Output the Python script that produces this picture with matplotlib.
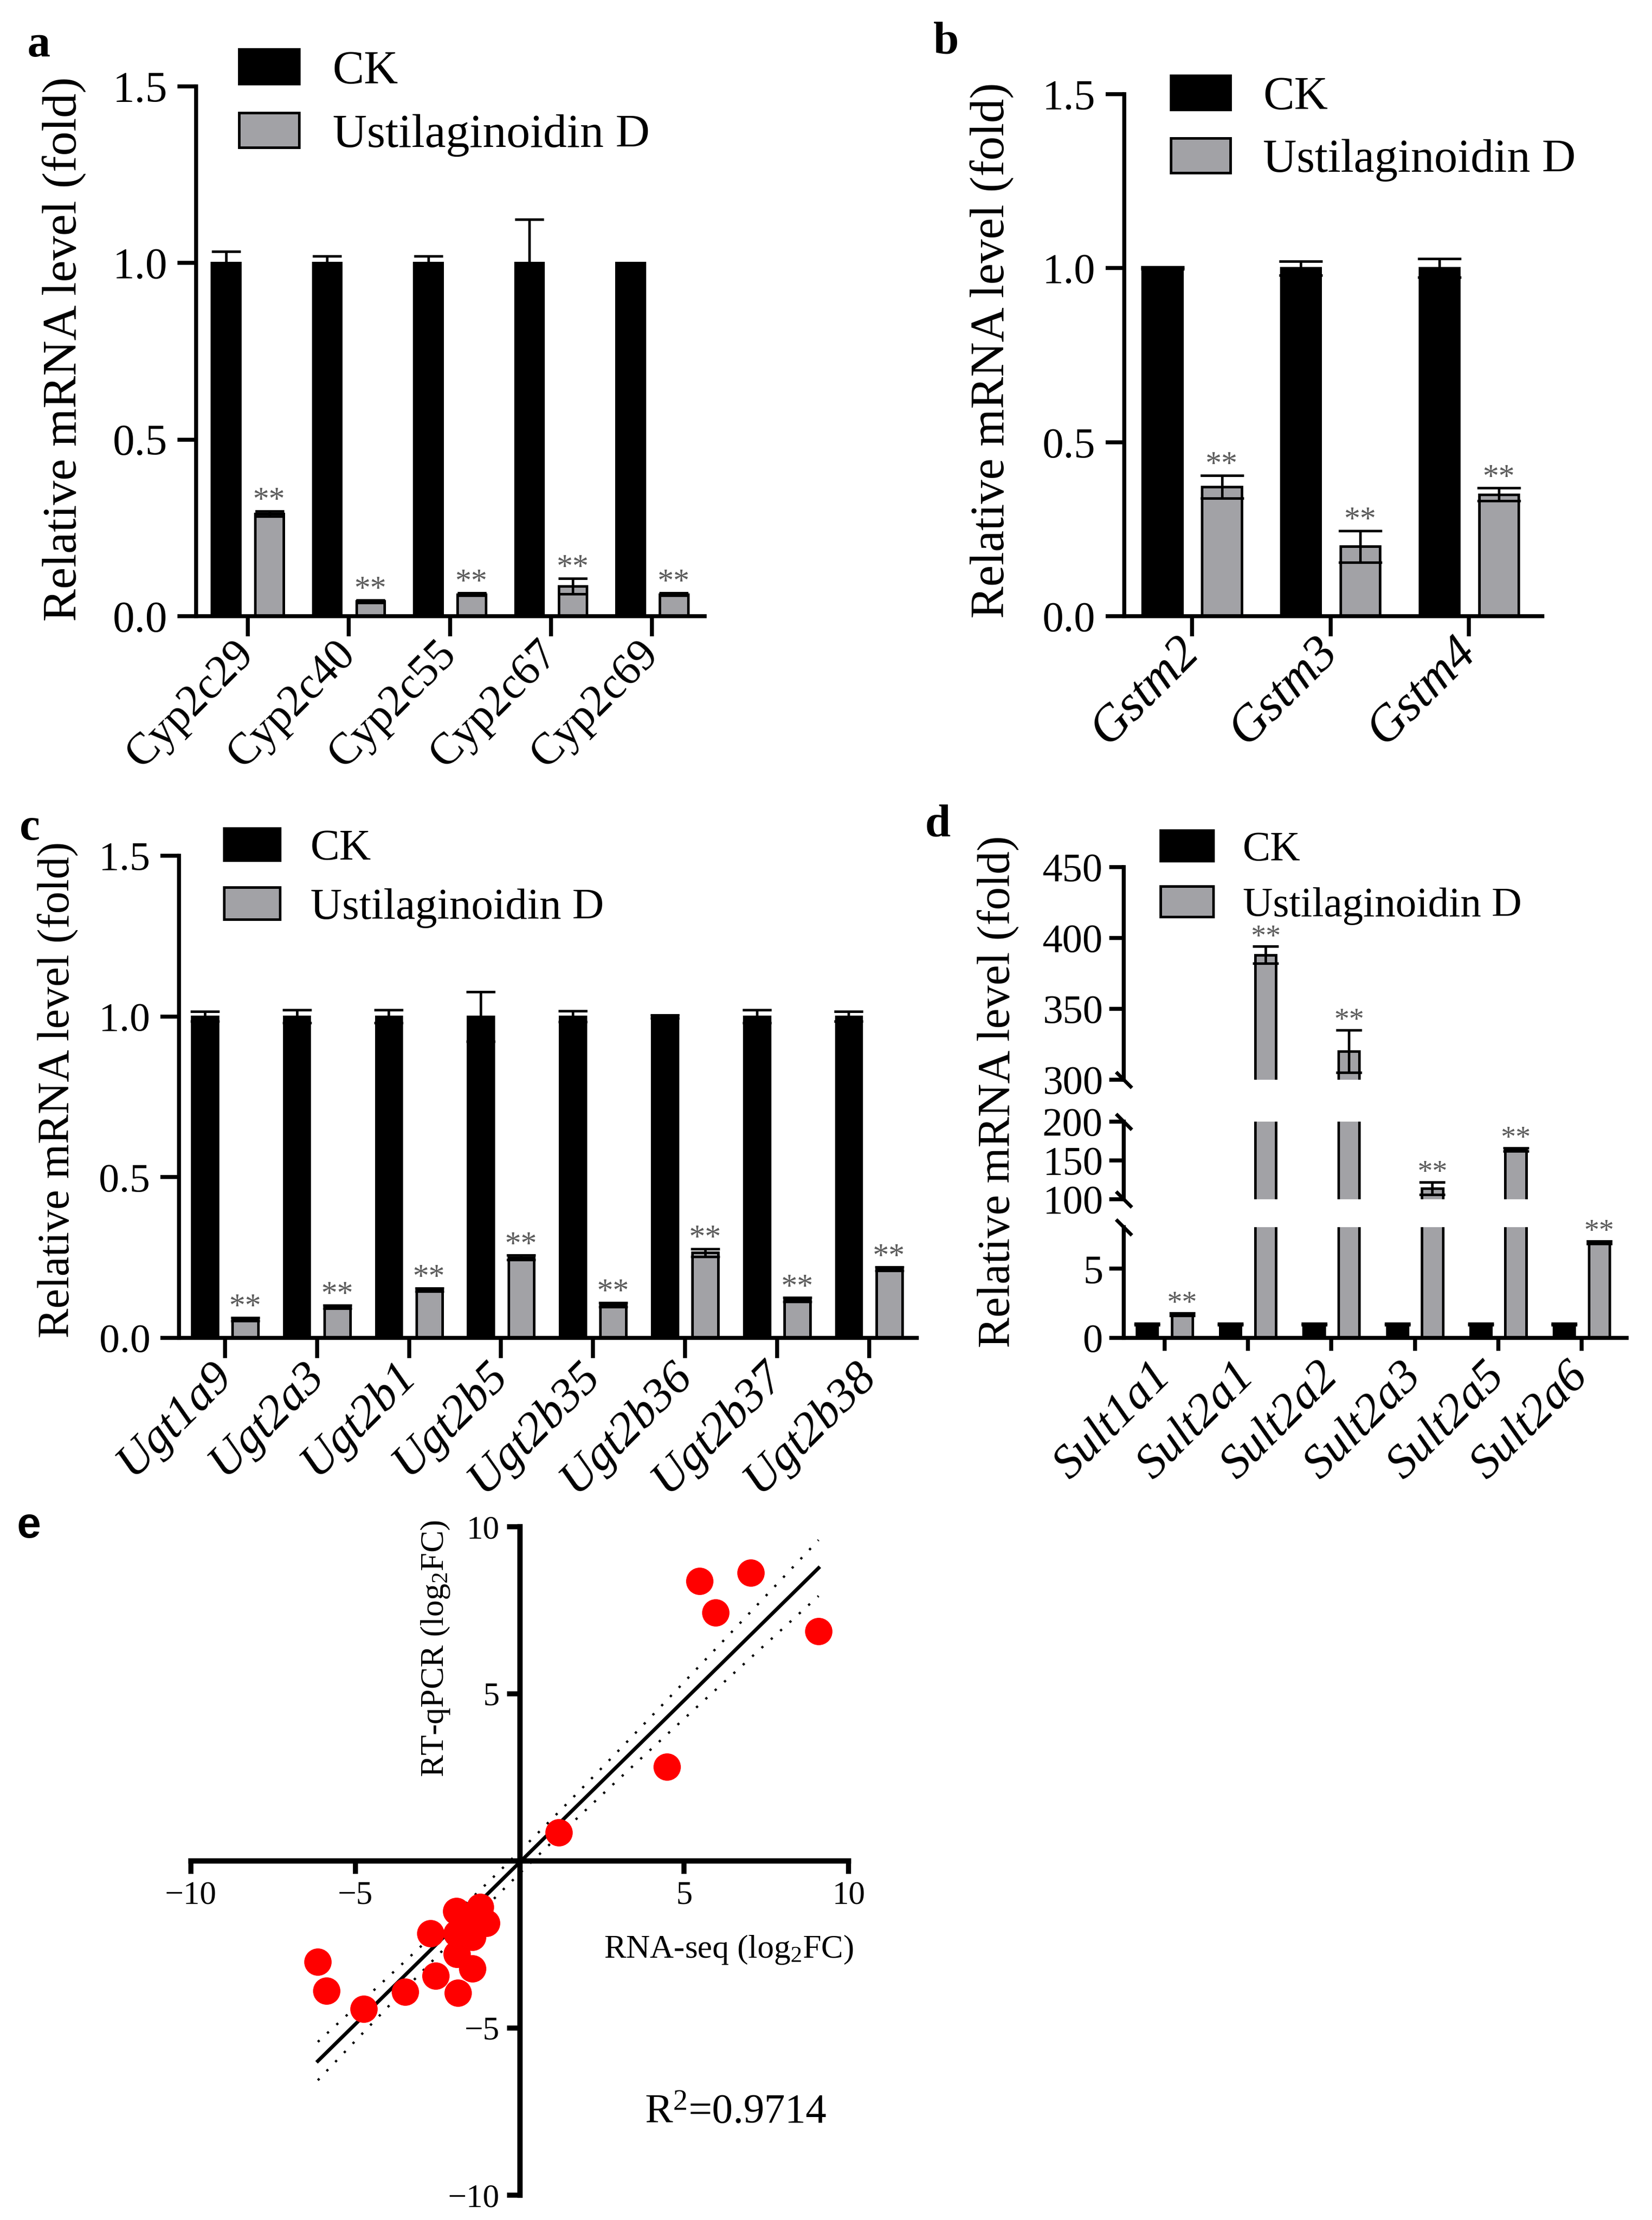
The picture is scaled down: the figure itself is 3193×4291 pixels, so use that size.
import numpy as np
import matplotlib
matplotlib.use("Agg")
import matplotlib.pyplot as plt
from matplotlib.patches import Patch

plt.rcParams['font.family'] = ['Liberation Serif', 'DejaVu Serif']
plt.rcParams['mathtext.fontset'] = 'custom'
plt.rcParams['mathtext.rm'] = 'Liberation Serif'
plt.rcParams['mathtext.it'] = 'Liberation Serif:italic'

# ---- dados ----
series_names = ["CK", "Ustilaginoidin D"]

a_genes = ["Cyp2c29", "Cyp2c40", "Cyp2c55", "Cyp2c67", "Cyp2c69"]
a_ck = [1.0, 1.0, 1.0, 1.0, 1.0]
a_ck_err = [0.033, 0.019, 0.019, 0.124, 0.0]
a_ud = [0.29, 0.042, 0.062, 0.085, 0.062]
a_ud_err = [0.007, 0.004, 0.004, 0.022, 0.004]

b_genes = ["Gstm2", "Gstm3", "Gstm4"]
b_ck = [1.0, 1.0, 1.0]
b_ck_err = [0.003, 0.02, 0.027]
b_ud = [0.372, 0.2, 0.35]
b_ud_err = [0.033, 0.045, 0.018]

c_genes = ["Ugt1a9", "Ugt2a3", "Ugt2b1", "Ugt2b5", "Ugt2b35", "Ugt2b36", "Ugt2b37", "Ugt2b38"]
c_ck = [1.0, 1.0, 1.0, 1.0, 1.0, 1.0, 1.0, 1.0]
c_ck_err = [0.015, 0.02, 0.02, 0.077, 0.017, 0.005, 0.02, 0.015]
c_ud = [0.058, 0.096, 0.15, 0.25, 0.103, 0.265, 0.119, 0.215]
c_ud_err = [0.005, 0.005, 0.005, 0.007, 0.006, 0.012, 0.006, 0.005]

d_genes = ["Sult1a1", "Sult2a1", "Sult2a2", "Sult2a3", "Sult2a5", "Sult2a6"]
d_ck = [1.0, 1.0, 1.0, 1.0, 1.0, 1.0]
d_ck_err = [0.05, 0.05, 0.05, 0.05, 0.05, 0.05]
d_ud = [1.7, 388, 320, 114, 164, 6.9]
d_ud_err = [0.1, 6, 15, 8, 2, 0.1]
d_segments = [(300, 450), (100, 200), (0, 8)]
d_seg_ticks = [[300, 350, 400, 450], [100, 150, 200], [0, 5]]

# painel e: RNA-seq vs RT-qPCR (log2FC)
e_rnaseq = [7.02, 5.47, 5.96, 9.09, 4.47, 1.19,
            -6.14, -5.87, -4.74, -3.49, -2.71, -2.56, -1.88, -1.44,
            -1.92, -1.20, -1.01, -1.91, -1.44, -1.91, -1.69, -1.37]
e_qpcr = [8.62, 8.37, 7.43, 6.88, 2.81, 0.85,
          -3.02, -3.89, -4.43, -3.92, -2.17, -3.43, -3.95, -3.22,
          -1.50, -1.37, -1.86, -2.79, -2.27, -2.17, -1.71, -1.96]
e_r2 = 0.9714
T_CRIT = 2.086  # t(0.975, gl=20)

# ---- estilo ----
W, H = 3193, 4291
GRAY = "#a2a2a6"
STAR_C = "#5c5c5c"
BAR_LW = 3.6
SPINE_LW = 5.5


def rect(x0, y0, x1, y1):
    # coordenadas em pixels (y de cima pra baixo) -> fração da figura
    return [x0 / W, 1 - y1 / H, (x1 - x0) / W, (y1 - y0) / H]


def fig_text(fig, x, y, s, **kw):
    fig.text(x / W, 1 - y / H, s, **kw)


def style_axes(ax, fs, ylen, xlen, ypad, xpad):
    for s in ["top", "right"]:
        ax.spines[s].set_visible(False)
    for s in ["left", "bottom"]:
        ax.spines[s].set_linewidth(SPINE_LW)
    ax.tick_params(axis="y", direction="out", length=ylen, width=SPINE_LW, pad=ypad, labelsize=fs)
    ax.tick_params(axis="x", direction="out", length=xlen, width=SPINE_LW, pad=xpad)


def draw_bars(ax, x, ck, ck_err, ud, ud_err, w, off, cap):
    ax.bar(x - off, ck, w, color="black", edgecolor="black", lw=BAR_LW, zorder=2)
    ax.bar(x + off, ud, w, color=GRAY, edgecolor="black", lw=BAR_LW, zorder=2)
    ax.errorbar(x - off, ck, yerr=ck_err, fmt="none", ecolor="black",
                elinewidth=3.5, capsize=cap, capthick=3.5, zorder=3)
    ax.errorbar(x + off, ud, yerr=ud_err, fmt="none", ecolor="black",
                elinewidth=3.5, capsize=cap, capthick=3.5, zorder=3)


def stars(ax, xs, tops, fs):
    for xx, t in zip(xs, tops):
        ax.annotate("**", xy=(xx, t), xytext=(0, 2), textcoords="offset points",
                    ha="center", va="baseline", fontsize=fs, color=STAR_C,
                    annotation_clip=False)


def legend(ax, fs, x, y):
    handles = [Patch(facecolor="black", edgecolor="black", lw=BAR_LW),
               Patch(facecolor=GRAY, edgecolor="black", lw=BAR_LW)]
    ax.legend(handles, series_names, loc="upper left", bbox_to_anchor=(x / W, 1 - y / H),
              bbox_transform=ax.figure.transFigure, frameon=False, fontsize=fs,
              borderpad=0, borderaxespad=0, handlelength=1.27, handleheight=0.75,
              labelspacing=0.42, handletextpad=0.7)


def bar_panel(fig, box, genes, ck, ck_err, ud, ud_err, xlim, w, off, cap,
              fs, xfs, xpad, leg_fs, leg_xy, italic):
    ax = fig.add_axes(rect(*box))
    x = np.arange(len(genes))
    draw_bars(ax, x, np.array(ck), np.array(ck_err), np.array(ud), np.array(ud_err), w, off, cap)
    stars(ax, x + off, np.array(ud) + np.array(ud_err), 45)
    ax.set_xlim(*xlim)
    ax.set_ylim(0, 1.5)
    ax.set_yticks([0, 0.5, 1.0, 1.5])
    ax.set_yticklabels(["0.0", "0.5", "1.0", "1.5"])
    ax.set_xticks(x)
    ax.set_xticklabels(genes, rotation=45, ha="right", va="center", rotation_mode="anchor",
                       fontstyle="italic" if italic else "normal", fontsize=xfs)
    style_axes(ax, fs, 26, 28, 14, xpad)
    legend(ax, leg_fs, *leg_xy)
    return ax


fig = plt.figure(figsize=(W / 100, H / 100), dpi=100)

# painel a
bar_panel(fig, (379, 167, 1362, 1191), a_genes, a_ck, a_ck_err, a_ud, a_ud_err,
          (-0.51, 4.52), 0.28, 0.215, 20, 61, 62, 16, 66, (462, 95), False)
fig_text(fig, 124, 675, "Relative mRNA level (fold)", rotation=90, ha="center", va="center", fontsize=68)
fig_text(fig, 74, 87, "a", fontsize=64, fontweight="bold", ha="center", va="center")

# painel b
bar_panel(fig, (2173, 182, 2981, 1191), b_genes, b_ck, b_ck_err, b_ud, b_ud_err,
          (-0.49, 2.53), 0.285, 0.215, 30, 59, 70, 12, 65, (2263, 146), True)
fig_text(fig, 1917, 677, "Relative mRNA level (fold)", rotation=90, ha="center", va="center", fontsize=67)
fig_text(fig, 1829, 82, "b", fontsize=64, fontweight="bold", ha="center", va="center")

# painel c
bar_panel(fig, (346, 1654, 1772, 2586), c_genes, c_ck, c_ck_err, c_ud, c_ud_err,
          (-0.5, 7.52), 0.28, 0.22, 20, 57, 66, 15, 61, (433, 1601), True)
fig_text(fig, 112, 2106, "Relative mRNA level (fold)", rotation=90, ha="center", va="center", fontsize=62)
fig_text(fig, 58, 1602, "c", fontsize=64, fontweight="bold", ha="center", va="center")

# painel d (eixo quebrado em 3 partes)
d_boxes = [(2172, 1676, 3144, 2087), (2172, 2168, 3144, 2318), (2172, 2372, 3144, 2586)]
d_axes = []
xd = np.arange(len(d_genes))
d_top = np.array(d_ud) + np.array(d_ud_err)
for i, (box, lim, tk) in enumerate(zip(d_boxes, d_segments, d_seg_ticks)):
    ax = fig.add_axes(rect(*box))
    draw_bars(ax, xd, np.array(d_ck), np.array(d_ck_err), np.array(d_ud), np.array(d_ud_err),
              0.25, 0.21, 18)
    ax.set_xlim(-0.49, 5.54)
    ax.set_ylim(*lim)
    ax.set_yticks(tk)
    style_axes(ax, 56, 20, 18, 9, 26)
    sel = [j for j in range(len(d_genes)) if lim[0] <= d_top[j] <= lim[1]]
    stars(ax, xd[sel] + 0.21, d_top[sel], 42)
    mk = dict(marker=[(-1, 1), (1, -1)], markersize=22, linestyle="none", color="k",
              mec="k", mew=5, clip_on=False, transform=ax.transAxes)
    if i < 2:
        ax.plot([0], [0], **mk)
    if i > 0:
        ax.plot([0], [1], **mk)
    if i < 2:
        ax.spines["bottom"].set_visible(False)
        ax.tick_params(axis="x", bottom=False, labelbottom=False)
    else:
        ax.set_xticks(xd)
        ax.set_xticklabels(d_genes, rotation=45, ha="right", va="center",
                           rotation_mode="anchor", fontstyle="italic", fontsize=66)
    d_axes.append(ax)
legend(d_axes[0], 58, 2243, 1605)
fig_text(fig, 1929, 2110, "Relative mRNA level (fold)", rotation=90, ha="center", va="center", fontsize=64)
fig_text(fig, 1812, 1595, "d", fontsize=64, fontweight="bold", ha="center", va="center")

# painel e: correlação
ax = fig.add_axes(rect(369, 2951, 1640, 4243))
xr = np.array(e_rnaseq)
yq = np.array(e_qpcr)
n = len(xr)
slope, inter = np.polyfit(xr, yq, 1)
xx = np.linspace(xr.min(), xr.max(), 200)
yy = slope * xx + inter
# erro residual a partir do R2 informado no gráfico
syy = np.sum((yq - yq.mean()) ** 2)
s_err = np.sqrt((1 - e_r2) * syy / (n - 2))
sxx = np.sum((xr - xr.mean()) ** 2)
band = T_CRIT * s_err * np.sqrt(1 / n + (xx - xr.mean()) ** 2 / sxx)
ax.plot(xx, yy, color="black", lw=5, zorder=2)
ax.plot(xx, yy + band, color="black", lw=3.2, linestyle=(0, (1, 4.5)), zorder=2)
ax.plot(xx, yy - band, color="black", lw=3.2, linestyle=(0, (1, 4.5)), zorder=2)
ax.scatter(xr, yq, s=1450, c="#ff0000", linewidths=0, zorder=4)
ax.set_xlim(-10, 10)
ax.set_ylim(-10, 10)
for s in ["top", "right"]:
    ax.spines[s].set_visible(False)
for s in ["left", "bottom"]:
    ax.spines[s].set_position(("data", 0))
    ax.spines[s].set_linewidth(7.5)
ax.set_xticks([-10, -5, 5, 10])
ax.set_yticks([-10, -5, 5, 10])
ax.tick_params(direction="out", length=18, width=7, pad=10, labelsize=46)
ax.text(10.15, -2.65, "RNA-seq (log$_{\\mathrm{2}}$FC)", ha="right", va="center", fontsize=46)
ax.text(-2.57, 10.2, "RT-qPCR (log$_{\\mathrm{2}}$FC)", ha="center", va="top", rotation=90, fontsize=46)
ax.text(3.8, -7.56, f"R$^{{\\mathrm{{2}}}}$={e_r2}", ha="left", va="center", fontsize=58)
fig_text(fig, 56, 2950, "e", fontsize=60, fontweight="bold", ha="center", va="center",
         family=["Liberation Sans", "DejaVu Sans"])

fig.savefig("out.png", dpi=100)
